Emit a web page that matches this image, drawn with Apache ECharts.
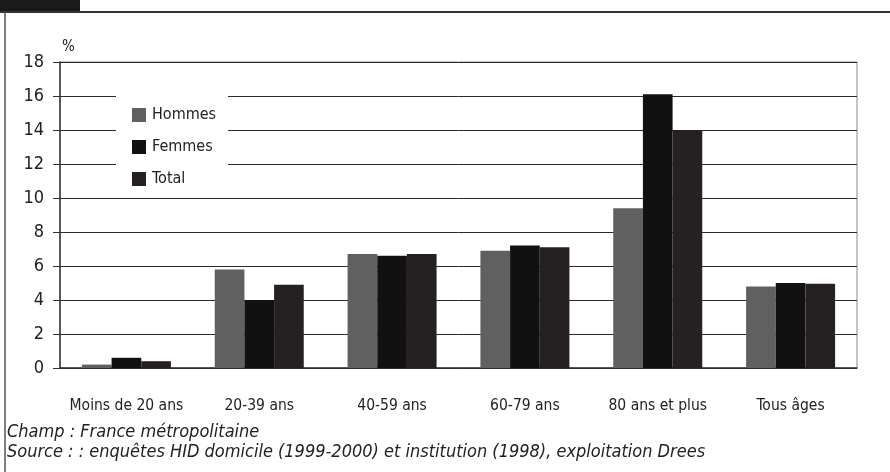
<!DOCTYPE html>
<html>
<head>
<meta charset="utf-8">
<script src="https://cdn.jsdelivr.net/npm/echarts@6/dist/echarts.min.js"></script>
<style>
html,body{margin:0;padding:0;background:#fff;}
#chart{width:890px;height:472px;}
</style>
</head>
<body>
<div id="chart"></div>
<script>
const categories = ['Moins de 20 ans', '20-39 ans', '40-59 ans', '60-79 ans', '80 ans et plus', 'Tous âges'];
const hommes = [0.2, 5.8, 6.7, 6.9, 9.4, 4.8];
const femmes = [0.6, 4.0, 6.6, 7.2, 16.1, 5.0];
const total  = [0.4, 4.9, 6.7, 7.1, 14.0, 4.95];
const yTicks = [0, 2, 4, 6, 8, 10, 12, 14, 16, 18];
const footnote1 = 'Champ : France métropolitaine';
const footnote2 = 'Source : : enquêtes HID domicile (1999-2000) et institution (1998), exploitation Drees';

const FONT = '"Liberation Sans Narrow", "DejaVu Sans Condensed", "Roboto", sans-serif';
const chart = echarts.init(document.getElementById('chart'), null, {renderer: 'canvas'});
chart.setOption({
  animation: false,
  backgroundColor: '#fff',
  textStyle: {fontFamily: FONT},
  grid: {left: 60, right: 33, top: 62, bottom: 104, show: true, borderColor: '#8a8a8a', borderWidth: 1},
  legend: {
    orient: 'vertical', left: 116, top: 95,
    backgroundColor: '#fff', padding: [12, 12, 10, 16],
    icon: 'rect',
    itemWidth: 14, itemHeight: 14, itemGap: 16,
    textStyle: {fontFamily: FONT, fontSize: 16, color: '#222', padding: [0, 0, 0, 1]},
    data: ['Hommes', 'Femmes', 'Total']
  },
  xAxis: {
    type: 'category', data: categories,
    axisLine: {lineStyle: {color: '#333', width: 1.5}},
    axisTick: {show: false},
    axisLabel: {fontFamily: FONT, fontSize: 15.5, color: '#222', margin: 30, interval: 0}
  },
  yAxis: {
    type: 'value', min: yTicks[0], max: yTicks[yTicks.length - 1], interval: 2,
    name: '%', nameLocation: 'end', nameGap: 7,
    nameTextStyle: {fontFamily: FONT, fontSize: 15, color: '#222', align: 'left', padding: [0, 0, 0, 2]},
    axisLine: {show: true, lineStyle: {color: '#333', width: 1.5}},
    axisTick: {show: true, length: 7, lineStyle: {color: '#333'}},
    axisLabel: {fontFamily: FONT, fontSize: 18, color: '#222', margin: 16},
    splitLine: {lineStyle: {color: '#2a2a2a', width: 1}}
  },
  series: [
    {name: 'Hommes', type: 'bar', data: hommes, itemStyle: {color: '#606060'}, barGap: '0%', barCategoryGap: '33%'},
    {name: 'Femmes', type: 'bar', data: femmes, itemStyle: {color: '#111111'}, barGap: '0%', barCategoryGap: '33%'},
    {name: 'Total', type: 'bar', data: total, itemStyle: {color: '#252122'}, barGap: '0%', barCategoryGap: '33%'}
  ],
  graphic: [
    {type: 'rect', shape: {x: 0, y: 0, width: 80, height: 12}, style: {fill: '#1a1a1a'}},
    {type: 'line', shape: {x1: 0, y1: 12, x2: 890, y2: 12}, style: {stroke: '#333', lineWidth: 2}},
    {type: 'line', shape: {x1: 5, y1: 12, x2: 5, y2: 472}, style: {stroke: '#555', lineWidth: 1.5}},
    {type: 'text', left: 7, top: 423, style: {text: footnote1, font: 'italic 18px ' + FONT, fill: '#222'}},
    {type: 'text', left: 7, top: 443, style: {text: footnote2, font: 'italic 18px ' + FONT, fill: '#222'}}
  ]
});
</script>
</body>
</html>
